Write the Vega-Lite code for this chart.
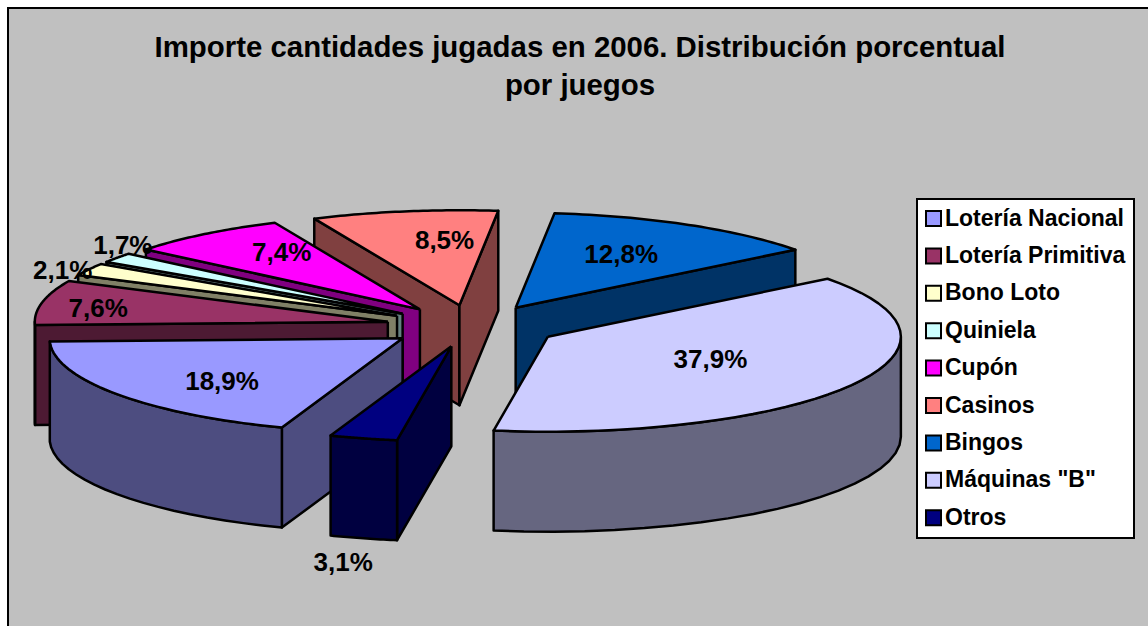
{
 "$schema":"https://vega.github.io/schema/vega-lite/v6.json",
 "autosize":"none",
 "padding":{"left":8,"top":8,"right":0,"bottom":0},
 "width":1160,"height":640,
 "background":"white",
 "title":{"text":["Importe cantidades jugadas en 2006. Distribución porcentual","por juegos"],"anchor":"middle","orient":"top","baseline":"top","offset":-93,"dx":-8,"font":"Liberation Sans","fontSize":29.4,"fontWeight":"bold","color":"black","lineHeight":38},
 "config":{"view":{"fill":"#C0C0C0","stroke":"black","strokeWidth":2},"axis":{"domain":false}},
 "data":{"values":[
  {"Juego":"Bingos","Porcentaje":12.8,"orden":7},
  {"Juego":"Casinos","Porcentaje":8.5,"orden":6},
  {"Juego":"Cupón","Porcentaje":7.4,"orden":5},
  {"Juego":"Quiniela","Porcentaje":1.7,"orden":4},
  {"Juego":"Bono Loto","Porcentaje":2.1,"orden":3},
  {"Juego":"Lotería Primitiva","Porcentaje":7.6,"orden":2},
  {"Juego":"Máquinas \"B\"","Porcentaje":37.9,"orden":8},
  {"Juego":"Lotería Nacional","Porcentaje":18.9,"orden":1},
  {"Juego":"Otros","Porcentaje":3.1,"orden":9}
 ]},
 "transform":[
  {"stack":"Porcentaje","groupby":[],"sort":[{"field":"orden","order":"ascending"}],"as":["s0","s1"]},
  {"calculate":"-160+datum.s0*3.6","as":"a0"},
  {"calculate":"-160+datum.s1*3.6","as":"a1"},
  {"calculate":"(datum.a0+datum.a1)/2","as":"m"},
  {"calculate":"473+87*sin(datum.m*PI/180)","as":"cx"},
  {"calculate":"326-21*cos(datum.m*PI/180)","as":"cy"}
 ],
 "layer":[
  {
   "transform":[
    {"calculate":"['r0','r1','wall','top']","as":"cara"},
    {"flatten":["cara"]},
    {"calculate":"datum.a0<0?datum.a0:max(datum.a0,90)","as":"w0"},
    {"calculate":"datum.a0<0?min(datum.a1,-90):datum.a1","as":"w1"},
    {"filter":"datum.cara=='top'||(datum.cara=='r0'&&sin(datum.a0*PI/180)<0)||(datum.cara=='r1'&&sin(datum.a1*PI/180)>0)||(datum.cara=='wall'&&datum.w1>datum.w0)"},
    {"calculate":"sequence(0,43)","as":"i"},
    {"flatten":["i"]},
    {"calculate":"datum.cara=='top'?datum.a0+(datum.a1-datum.a0)*clamp((datum.i-1)/40,0,1):datum.cara=='wall'?datum.w0+(datum.w1-datum.w0)*(datum.i<=20?datum.i/20:datum.i<=41?(41-datum.i)/20:0):datum.cara=='r0'?datum.a0:datum.a1","as":"ang"},
    {"calculate":"datum.cara=='top'?((datum.i==0||datum.i==42)?0:1):datum.cara=='wall'?1:((datum.i==1||datum.i==2)?1:0)","as":"rad"},
    {"calculate":"datum.cara=='top'?0:datum.cara=='wall'?((datum.i>=21&&datum.i<=41)?100:0):((datum.i==2||datum.i==3)?100:0)","as":"dz"},
    {"calculate":"datum.cx+datum.rad*353*sin(datum.ang*PI/180)","as":"px"},
    {"calculate":"datum.cy-datum.rad*95*cos(datum.ang*PI/180)+datum.dz","as":"py"},
    {"calculate":"datum.cara=='top'?datum.Juego:datum.Juego+' lado'","as":"tono"},
    {"calculate":"datum.Juego+datum.cara","as":"clave"}
   ],
   "mark":{"type":"line","stroke":"black","strokeWidth":2.5,"strokeJoin":"round","clip":false},
   "encoding":{
    "x":{"field":"px","type":"quantitative","scale":{"domain":[8,1168],"nice":false,"zero":false},"axis":null},
    "y":{"field":"py","type":"quantitative","scale":{"domain":[648,8],"nice":false,"zero":false},"axis":null},
    "order":{"field":"i","type":"quantitative"},
    "detail":{"field":"clave"},
    "fill":{"field":"tono","type":"nominal",
     "scale":{"domain":["Lotería Nacional","Lotería Primitiva","Bono Loto","Quiniela","Cupón","Casinos","Bingos","Máquinas \"B\"","Otros","Lotería Nacional lado","Lotería Primitiva lado","Bono Loto lado","Quiniela lado","Cupón lado","Casinos lado","Bingos lado","Máquinas \"B\" lado","Otros lado"],
      "range":["#9999FF","#993366","#FFFFCC","#CCFFFF","#FF00FF","#FF8080","#0066CC","#CCCCFF","#000080","#4D4D80","#4D1A33","#808066","#668080","#800080","#804040","#003366","#666680","#000040"]},
     "legend":{"title":null,"values":["Lotería Nacional","Lotería Primitiva","Bono Loto","Quiniela","Cupón","Casinos","Bingos","Máquinas \"B\"","Otros"],
      "orient":"none","legendX":909,"legendY":191,"fillColor":"white","strokeColor":"black","padding":8,
      "encode":{"legend":{"update":{"strokeWidth":{"value":2}}}},
      "symbolType":"square","symbolSize":225,"symbolOffset":-3,"symbolStrokeColor":"black","symbolStrokeWidth":2,"labelFont":"Liberation Sans","labelFontSize":23,"labelFontWeight":"bold","labelColor":"black","labelLimit":300,"rowPadding":13.4,"labelOffset":0}}
   }
  },
  {
   "transform":[
    {"calculate":"[0.632,0.838,1.085,0.98,0.642,0.27,0.61,0.535,1.23][datum.orden-1]","as":"fx"},
    {"calculate":"[0.79,0.64,0.97,1.21,0.75,0.685,0.635,0.49,2.36][datum.orden-1]","as":"fy"},
    {"calculate":"datum.cx+datum.fx*353*sin(datum.m*PI/180)","as":"lx"},
    {"calculate":"datum.cy-datum.fy*95*cos(datum.m*PI/180)","as":"ly"},
    {"calculate":"replace(format(datum.Porcentaje,'.1f'),'.',',')+'%'","as":"etiqueta"}
   ],
   "mark":{"type":"text","font":"Liberation Sans","fontSize":26,"fontWeight":"bold","color":"black","align":"center","baseline":"middle","clip":false},
   "encoding":{
    "x":{"field":"lx","type":"quantitative","scale":{"domain":[8,1168],"nice":false,"zero":false},"axis":null},
    "y":{"field":"ly","type":"quantitative","scale":{"domain":[648,8],"nice":false,"zero":false},"axis":null},
    "text":{"field":"etiqueta"}
   }
  }
 ]
}
